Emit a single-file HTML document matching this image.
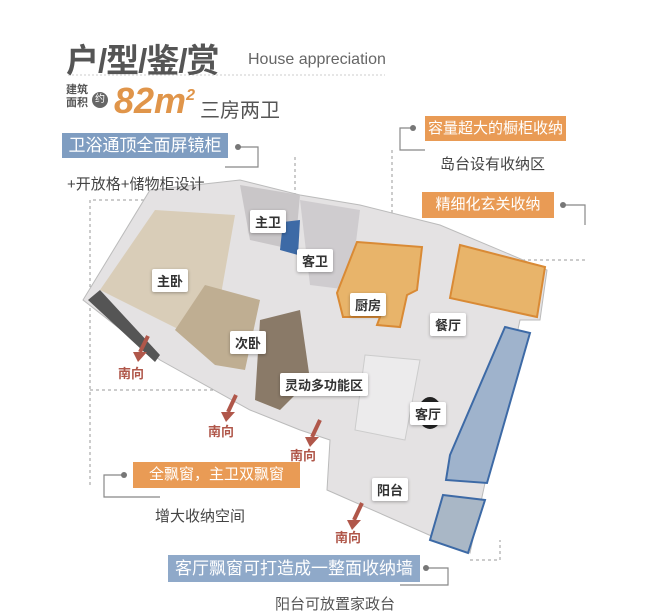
<!DOCTYPE html>
<html><head><meta charset="utf-8"><style>
body{margin:0;width:655px;height:601px;overflow:hidden;background:#fff;font-family:"Liberation Sans","Noto Sans CJK SC",sans-serif}
.a{position:absolute;white-space:nowrap}
.lb{position:absolute;background:#fff;color:#333;font-size:13px;font-weight:bold;padding:2px 5px;box-shadow:0 1px 3px rgba(0,0,0,.3);border-radius:2px}
.s{position:absolute;color:#b0574a;font-size:13px;font-weight:bold}
</style></head><body>
<svg width="655" height="601" style="position:absolute;left:0;top:0">
<line x1="68" y1="75" x2="385" y2="75" stroke="#ccc" stroke-dasharray="2,2"/>
<g fill="none" stroke="#999" stroke-dasharray="3,3">
<path d="M90 485 V200 H235"/><path d="M90 390 H245"/><path d="M295 157 V200"/>
<path d="M392 150 V215"/><path d="M510 260 H585"/><path d="M470 560 H500 V540"/>
</g>
<g fill="none" stroke="#888" stroke-width="1.2">
<path d="M240 147 H258 V167 H225"/><path d="M412 128 H400 V150 H425"/><path d="M565 205 H585 V225"/>
<path d="M122 475 H104 V497 H160"/><path d="M428 568 H448 V585 H400"/>
</g>
<g fill="#777"><circle cx="238" cy="147" r="3"/><circle cx="413" cy="128" r="3"/><circle cx="563" cy="205" r="3"/><circle cx="124" cy="475" r="3"/><circle cx="426" cy="568" r="3"/></g>
<polygon points="83,300 150,190 240,180 300,195 360,205 440,225 547,270 540,320 520,320 470,553 327,490 330,440 300,430 250,410 160,360" fill="#e4e2e3" stroke="#bbb"/>
<polygon points="100,290 155,210 235,215 220,300 180,330" fill="#d9cdb8"/>
<polygon points="175,330 205,285 260,300 245,370 215,365" fill="#bfae92"/>
<polygon points="260,320 300,310 310,380 280,410 255,400" fill="#8a7a68"/>
<polygon points="240,185 300,195 295,250 250,240" fill="#c9c6c8"/>
<polygon points="300,200 360,210 350,290 310,285" fill="#cfcccf"/>
<polygon points="88,300 100,290 160,355 155,362" fill="#555"/>
<polygon points="357,242 422,247 417,290 407,295 400,327 377,325 380,317 343,317 337,293" fill="#e8b46a" stroke="#d98a35" stroke-width="2"/>
<polygon points="460,245 545,267 537,317 450,298" fill="#e8b46a" stroke="#d98a35" stroke-width="2"/>
<polygon points="505,327 530,333 487,483 446,480 450,455" fill="#9fb3cc" stroke="#3d6aa6" stroke-width="2"/>
<polygon points="443,495 485,500 468,553 430,540" fill="#a9b7c6" stroke="#3d6aa6" stroke-width="2"/>
<polygon points="283,222 300,220 298,255 280,250" fill="#3d6aa6"/>
<polygon points="365,355 420,360 405,440 355,430" fill="#ecebec" stroke="#ccc"/>
<ellipse cx="430" cy="413" rx="12" ry="16" fill="#222"/>
<g stroke="#b0574a" stroke-width="4" fill="#b0574a">
<line x1="148" y1="336" x2="140" y2="352"/><line x1="236" y1="395" x2="228" y2="412"/><line x1="320" y1="420" x2="312" y2="437"/><line x1="362" y1="503" x2="354" y2="520"/>
</g>
<g fill="#b0574a"><polygon points="133,352 147,352 138,362"/><polygon points="221,412 235,412 226,422"/><polygon points="305,437 319,437 310,447"/><polygon points="347,520 361,520 352,530"/></g>
</svg>
<div class="a" style="left:66px;top:34px;font-size:33px;font-weight:bold;color:#555;letter-spacing:-1px">户/型/鉴/赏</div>
<div class="a" style="left:248px;top:51px;font-size:16px;color:#666">House appreciation</div>
<div class="a" style="left:66px;top:84px;font-size:11px;line-height:13px;color:#555;font-weight:bold">建筑<br>面积</div>
<div class="a" style="left:92px;top:92px;width:16px;height:16px;border-radius:50%;background:#666;color:#fff;font-size:10px;text-align:center;line-height:16px">约</div>
<div class="a" style="left:114px;top:80px;font-size:36px;font-weight:bold;font-style:italic;color:#e0954a">82m<sup style="font-size:16px">2</sup></div>
<div class="a" style="left:200px;top:94px;font-size:20px;color:#555">三房两卫</div>
<div class="a" style="left:62px;top:133px;width:166px;height:25px;background:#7f9dc1;color:#fff;font-size:17px;line-height:25px;text-align:center">卫浴通顶全面屏镜柜</div>
<div class="a" style="left:67px;top:173px;font-size:15px;color:#444">+开放格+储物柜设计</div>
<div class="a" style="left:425px;top:116px;width:141px;height:25px;background:#e99b55;color:#fff;font-size:15px;line-height:25px;text-align:center">容量超大的橱柜收纳</div>
<div class="a" style="left:440px;top:153px;font-size:15px;color:#444">岛台设有收纳区</div>
<div class="a" style="left:422px;top:192px;width:132px;height:26px;background:#e99b55;color:#fff;font-size:15px;line-height:26px;text-align:center">精细化玄关收纳</div>
<div class="a" style="left:133px;top:462px;width:167px;height:26px;background:#e99b55;color:#fff;font-size:15px;line-height:26px;text-align:center">全飘窗，主卫双飘窗</div>
<div class="a" style="left:155px;top:505px;font-size:15px;color:#444">增大收纳空间</div>
<div class="a" style="left:168px;top:555px;width:252px;height:27px;background:#8fa9c9;color:#fff;font-size:17px;line-height:27px;text-align:center">客厅飘窗可打造成一整面收纳墙</div>
<div class="a" style="left:275px;top:593px;font-size:15px;color:#555">阳台可放置家政台</div>
<div class="lb" style="left:250px;top:210px">主卫</div>
<div class="lb" style="left:297px;top:249px">客卫</div>
<div class="lb" style="left:152px;top:269px">主卧</div>
<div class="lb" style="left:350px;top:293px">厨房</div>
<div class="lb" style="left:430px;top:313px">餐厅</div>
<div class="lb" style="left:230px;top:331px">次卧</div>
<div class="lb" style="left:280px;top:373px">灵动多功能区</div>
<div class="lb" style="left:410px;top:402px">客厅</div>
<div class="lb" style="left:372px;top:478px">阳台</div>
<div class="s" style="left:118px;top:363px">南向</div>
<div class="s" style="left:208px;top:421px">南向</div>
<div class="s" style="left:290px;top:445px">南向</div>
<div class="s" style="left:335px;top:527px">南向</div>
</body></html>
